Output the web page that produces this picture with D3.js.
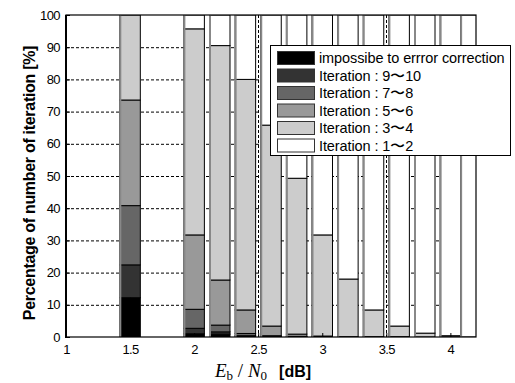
<!DOCTYPE html>
<html><head><meta charset="utf-8">
<script src="https://cdn.jsdelivr.net/npm/d3@7"></script>
<style>body{margin:0;background:#fff;} svg{display:block;}</style>
</head><body><svg id="c" width="515" height="383"></svg>
<script>
// ---- data ----
const xPositions = [1.5, 2.0, 2.2, 2.4, 2.6, 2.8, 3.0, 3.2, 3.4, 3.6, 3.8, 4.0, 4.16];
const seriesNames = ["impossibe to errror correction", "Iteration : 9〜10", "Iteration : 7〜8", "Iteration : 5〜6", "Iteration : 3〜4", "Iteration : 1〜2"];
const impossible = [12.2, 1.0, 0.9, 0.2, 0.1, 0, 0, 0, 0, 0, 0, 0, 0];
const iter9to10  = [10.2, 1.7, 0.7, 0.2, 0.1, 0.1, 0, 0, 0, 0, 0, 0, 0];
const iter7to8   = [18.4, 5.9, 2.1, 0.7, 0.2, 0.1, 0.1, 0, 0, 0, 0, 0, 0];
const iter5to6   = [32.8, 23.1, 14.0, 7.3, 3.0, 0.7, 0.2, 0.1, 0.1, 0.1, 0, 0, 0];
const iter3to4   = [26.4, 64.0, 72.8, 71.6, 62.4, 48.4, 31.4, 17.9, 8.3, 3.3, 1.2, 0.4, 0];
const iter1to2   = xPositions.map((_, i) => 100 - [impossible, iter9to10, iter7to8, iter5to6, iter3to4].reduce((s, a) => s + a[i], 0));
const xTicks = [1, 1.5, 2, 2.5, 3, 3.5, 4];
const yTicks = [0, 10, 20, 30, 40, 50, 60, 70, 80, 90, 100];
const colors = ["#000000", "#333333", "#666666", "#999999", "#cccccc", "#ffffff"];

// ---- layout ----
const L = 66, R = 476, T = 15, B = 337;
const svg = d3.select("#c");
const x = d3.scaleLinear().domain([1, 4.2]).range([L, R]);
const y = d3.scaleLinear().domain([0, 100]).range([B, T]);
const barW = x(1.16) - x(1);

svg.append("defs").append("clipPath").attr("id", "clip")
  .append("rect").attr("x", L).attr("y", T).attr("width", R - L).attr("height", B - T);

// grid
const grid = svg.append("g");
grid.selectAll("line.h").data(yTicks.filter(d => d > 0 && d < 100)).enter().append("line")
  .attr("x1", L).attr("x2", R).attr("y1", d => y(d) + 0.5).attr("y2", d => y(d) + 0.5)
  .attr("stroke", "#000").attr("stroke-width", 1).attr("stroke-dasharray", "3,2");
grid.selectAll("line.v").data(xTicks.filter(d => d > 1)).enter().append("line")
  .attr("y1", T).attr("y2", B).attr("x1", d => Math.round(x(d)) + 0.5).attr("x2", d => Math.round(x(d)) + 0.5)
  .attr("stroke", "#000").attr("stroke-width", 1).attr("stroke-dasharray", "3,2");

// stacked bars
const series = [impossible, iter9to10, iter7to8, iter5to6, iter3to4, iter1to2];
const rows = xPositions.map((xp, i) => {
  const o = { x: xp };
  series.forEach((s, k) => o["s" + k] = s[i]);
  return o;
});
const stack = d3.stack().keys(series.map((_, k) => "s" + k))(rows);
const bars = svg.append("g").attr("clip-path", "url(#clip)");
stack.forEach((layer, k) => {
  bars.selectAll(null).data(layer.filter(d => d[1] - d[0] > 0)).enter().append("rect")
    .attr("x", d => x(d.data.x) - barW / 2)
    .attr("width", barW)
    .attr("y", d => y(d[1]))
    .attr("height", d => y(d[0]) - y(d[1]))
    .attr("fill", colors[k])
    .attr("stroke", "#000").attr("stroke-width", 1);
});
// left gray edge of each bar
bars.selectAll("line.edge").data(xPositions).enter().append("line")
  .attr("x1", d => x(d) - barW / 2 + 0.5).attr("x2", d => x(d) - barW / 2 + 0.5)
  .attr("y1", y(100)).attr("y2", y(0))
  .attr("stroke", "#888").attr("stroke-width", 2);

// frame
svg.append("rect").attr("x", L).attr("y", T).attr("width", R - L).attr("height", B - T)
  .attr("fill", "none").attr("stroke", "#000").attr("stroke-width", 1.2);
svg.append("line").attr("x1", L).attr("x2", L).attr("y1", T).attr("y2", B + 1)
  .attr("stroke", "#000").attr("stroke-width", 2);

// axes
const yAxis = d3.axisLeft(y).tickValues(yTicks).tickSize(-4).tickPadding(6);
const gy = svg.append("g").attr("transform", `translate(${L},0)`).call(yAxis);
gy.select(".domain").remove();
gy.selectAll("text").attr("font-family", "Liberation Sans, Arial, sans-serif").attr("font-size", 13)
  .attr("letter-spacing", "-0.6").attr("fill", "#000");

const xAxis = d3.axisBottom(x).tickValues(xTicks).tickFormat(d3.format("")).tickSize(-4).tickPadding(8);
const gx = svg.append("g").attr("transform", `translate(0,${B})`).call(xAxis);
gx.select(".domain").remove();
gx.selectAll("text").attr("font-family", "Liberation Sans, Arial, sans-serif").attr("font-size", 13)
  .attr("letter-spacing", "-0.6").attr("fill", "#000");

// y label
svg.append("text").attr("transform", `translate(35,183) rotate(-90)`)
  .attr("text-anchor", "middle").attr("font-family", "Liberation Sans, Arial, sans-serif")
  .attr("font-weight", "bold").attr("font-size", 16).attr("letter-spacing", "-0.3")
  .text("Percentage of number of iteration [%]");

// x label
const xl = svg.append("text").attr("x", 215).attr("y", 377).attr("font-size", 19);
xl.append("tspan").attr("font-family", "Liberation Serif, serif").attr("font-style", "italic").text("E");
xl.append("tspan").attr("font-family", "Liberation Serif, serif").attr("font-size", 13).attr("dy", 3).text("b");
xl.append("tspan").attr("font-family", "Liberation Serif, serif").attr("dy", -3).text(" / ");
xl.append("tspan").attr("font-family", "Liberation Serif, serif").attr("font-style", "italic").text("N");
xl.append("tspan").attr("font-family", "Liberation Serif, serif").attr("font-size", 13).attr("dy", 3).text("0");
xl.append("tspan").attr("font-family", "Liberation Sans, Arial, sans-serif").attr("font-weight", "bold")
  .attr("font-size", 16).attr("dy", -3).attr("dx", 12).text("[dB]");

// legend
const lg = svg.append("g");
lg.append("rect").attr("x", 270.5).attr("y", 45.5).attr("width", 240).attr("height", 110)
  .attr("fill", "#fff").attr("stroke", "#000").attr("stroke-width", 1);
seriesNames.forEach((name, k) => {
  const cy = 58 + k * 17.5;
  lg.append("rect").attr("x", 277.5).attr("y", cy - 6.5).attr("width", 37).attr("height", 13)
    .attr("fill", colors[k]).attr("stroke", "#333").attr("stroke-width", 1);
  lg.append("text").attr("x", 319).attr("y", cy + 5).attr("font-family", "Liberation Sans, Arial, sans-serif")
    .attr("font-size", 14.5).attr("letter-spacing", "-0.1").text(name);
});
</script></body></html>
